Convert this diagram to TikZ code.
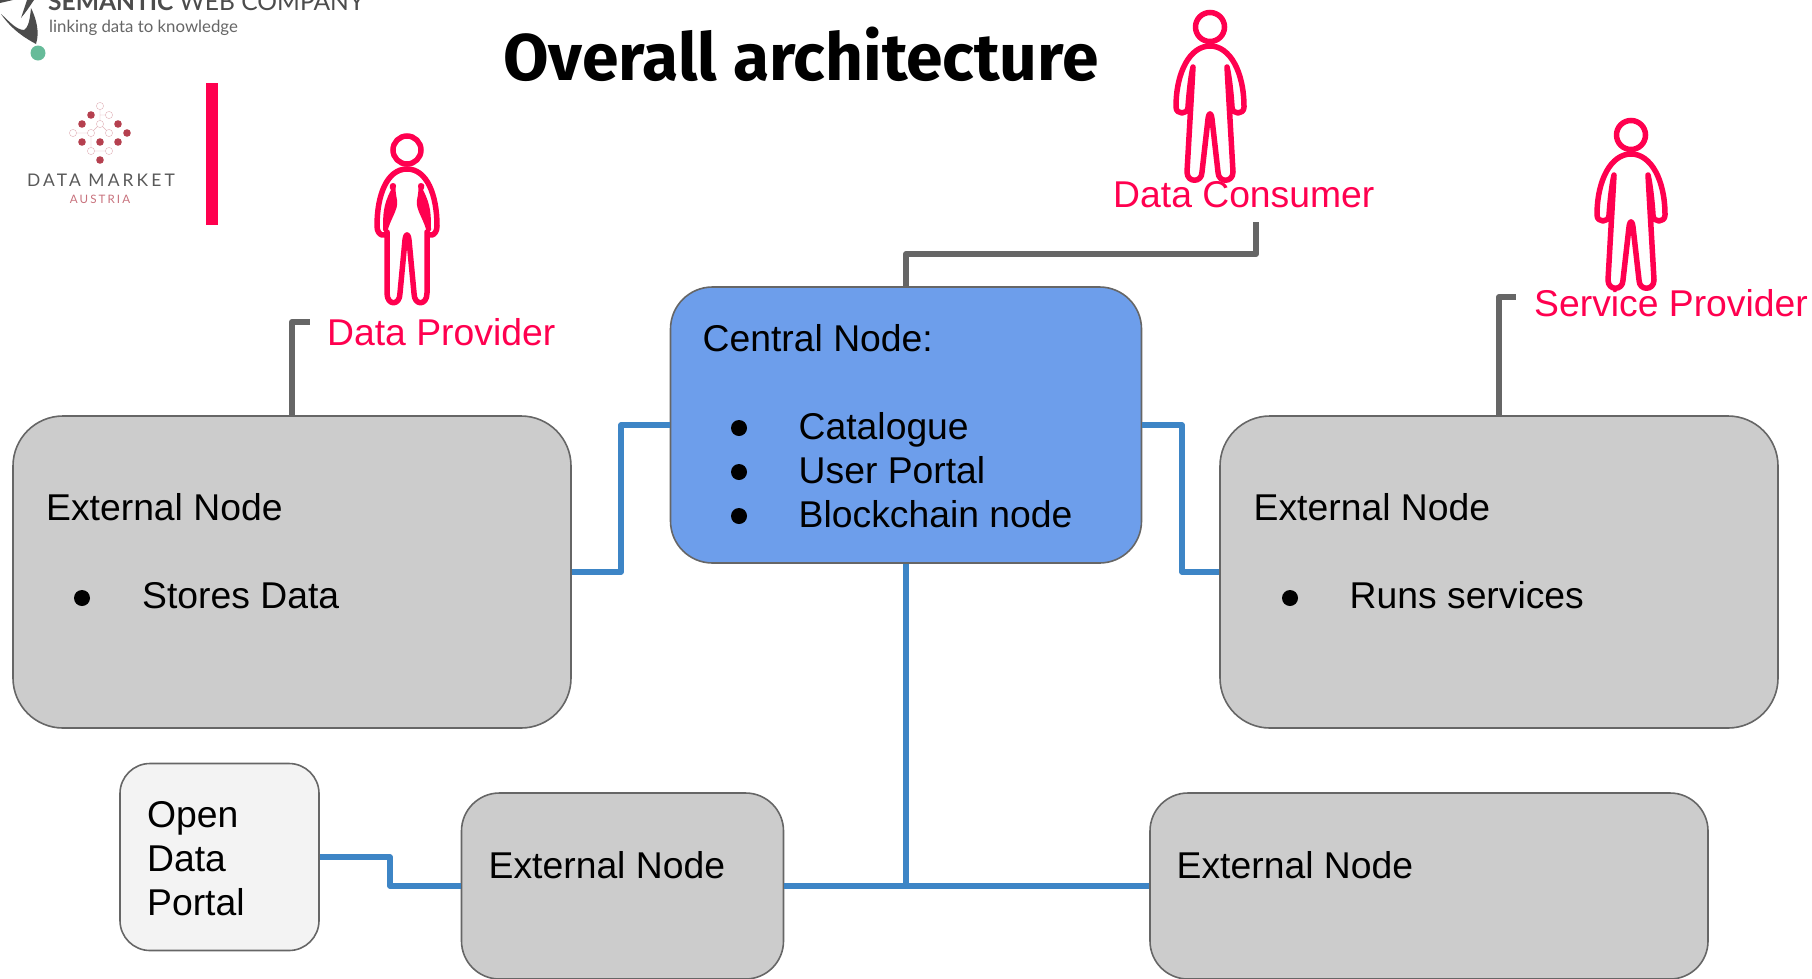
\documentclass[tikz,border=0pt]{standalone}
\usepackage{fontspec}
\setmainfont{Liberation Sans}
\newfontfamily\titlefont{Fira Sans Bold}
\newfontfamily\logofont{Lato}
\newfontfamily\logospaced[LetterSpace=18]{Lato}
\definecolor{rolered}{HTML}{FF004F}
\definecolor{linkblue}{HTML}{3D85C6}
\definecolor{linkgrey}{HTML}{666666}
\definecolor{centralblue}{HTML}{6D9EEB}
\definecolor{nodegrey}{HTML}{CCCCCC}
\definecolor{portalgrey}{HTML}{F3F3F3}
\definecolor{logored}{HTML}{B5404F}
\definecolor{logogreen}{HTML}{66BB99}
\tikzset{
	box/.style = {draw = linkgrey, line width = 1.6pt, inner sep = 0pt},
	label/.style = {anchor = base west, inner sep = 0pt, font = \fontsize{37.3}{44}\selectfont},
	role/.style = {label, text = rolered},
	dot/.style = {circle, fill = black, inner sep = 0pt, minimum size = 16pt},
	bluelink/.style = {draw = linkblue, line width = 5.5pt, line join = round},
	greylink/.style = {draw = linkgrey, line width = 6pt, line join = round},
	manfig/.pic = {
		\draw [rolered, line width = 5.5pt] (0, 0) circle [radius = 14.5];
		\foreach \s in {-1, 1}
			\draw [rolered, line width = 5.5pt, line join = round, line cap = round, xscale = \s]
				(0, 19) .. controls (20, 19) and (34, 45) .. (34, 80)
				.. controls (34, 88) and (22, 88) .. (22, 80)
				.. controls (21, 65) and (19, 48) .. (17, 40)
				-- (23, 145) .. controls (23, 156) and (8, 156) .. (8, 145)
				-- (2, 92) .. controls (1.5, 87) and (0, 87) .. (0, 87);
	},
	womanfig/.pic = {
		\draw [rolered, line width = 5.5pt] (0, 0) circle [radius = 14];
		\foreach \s in {-1, 1} {
			\draw [rolered, line width = 5.5pt, line join = round, line cap = round, xscale = \s]
				(0, 19) .. controls (20, 19) and (30, 45) .. (30, 76)
				.. controls (30, 87) and (20, 87) .. (20, 82)
				-- (20, 143) .. controls (20, 156) and (7, 156) .. (7, 143)
				-- (2, 90) .. controls (1.5, 85) and (0, 85) .. (0, 85);
			\fill [rolered, xscale = \s] (14, 33) .. controls (18, 33) and (18, 38) .. (16, 40)
				.. controls (24, 55) and (24, 65) .. (24, 80) -- (20, 84)
				.. controls (18, 70) and (8, 60) .. (10, 50) .. controls (11, 45) and (12, 38) .. (11, 36)
				.. controls (11, 34) and (12, 33) .. (14, 33);
		}
	}
}
\begin{document}
\begin{tikzpicture}[x = 1pt, y = -1pt]
	\useasboundingbox (0, 0) rectangle (1812, 978);
	\clip (0, 0) rectangle (1812, 978);
	% company logo
	\fill [black!70] (1, 14) .. controls (12, 30) and (25, 38) .. (36, 44)
		.. controls (40, 32) and (36, 18) .. (31, 8) .. controls (30, 20) and (28, 28) .. (24, 30)
		.. controls (16, 30) and (8, 20) .. (1, 14);
	\fill [black!70] (27, 0) -- (21, 18) .. controls (26, 12) and (30, 6) .. (34, 0) -- cycle;
	\fill [black!70] (0, 3) -- (13, 0) -- (0, 0) -- cycle;
	\fill [logogreen] (38, 53) circle [radius = 7.5];
	\node [anchor = base west, inner sep = 0pt, text = black!70] (semantic) at (48, 10)
		{\logofont\fontsize{24.6}{26}\selectfont\bfseries SEMANTIC \mdseries WEB COMPANY};
	\node [anchor = base west, inner sep = 0pt, text = black!60] (slogan) at (49, 32)
		{\logofont\fontsize{16.8}{20}\selectfont linking data to knowledge};
	% second logo
	\foreach \x/\y in {91/115, 82/124, 118/124, 127/133, 82/142, 100/142, 118/142, 100/160}
		\fill [logored] (\x, \y) circle [radius = 3.8];
	\draw [logored!40] (100, 106) -- (100, 124) (100, 115) -- (109, 115) (73, 133) -- (91, 133)
		-- (100, 124) -- (109, 133) (91, 133) -- (91, 151) -- (109, 151);
	\foreach \x/\y in {100/106, 109/115, 100/124, 73/133, 91/133, 109/133, 91/151, 109/151}
		\draw [logored!40, fill = white] (\x, \y) circle [radius = 3.6];
	\node [inner sep = 0pt, text = black!65] (market) at (101, 180)
		{\logospaced\fontsize{17.4}{18}\selectfont DATA MARKET};
	\node [inner sep = 0pt, text = logored!75] (austria) at (100, 199)
		{\logospaced\fontsize{11.6}{12}\selectfont AUSTRIA};
	\fill [rolered] (206, 83) rectangle (218, 225);
	% title
	\node [anchor = base west, inner sep = 0pt] (title) at (503, 80)
		{\titlefont\fontsize{66}{70}\selectfont Overall architecture};
	% boxes
	\node [box, fill = centralblue, rounded corners = 42pt, minimum width = 471pt, minimum height = 276pt] (central) at (906, 425) {};
	\node [box, fill = nodegrey, rounded corners = 50pt, minimum width = 558pt, minimum height = 312pt] (extleft) at (292, 572) {};
	\node [box, fill = nodegrey, rounded corners = 50pt, minimum width = 558pt, minimum height = 312pt] (extright) at (1499, 572) {};
	\node [box, fill = nodegrey, rounded corners = 38pt, minimum width = 322pt, minimum height = 186pt] (extbottoml) at (622.5, 886) {};
	\node [box, fill = nodegrey, rounded corners = 38pt, minimum width = 558pt, minimum height = 186pt] (extbottomr) at (1429, 886) {};
	\node [box, fill = portalgrey, rounded corners = 30pt, minimum width = 199pt, minimum height = 187pt] (portal) at (219.5, 857) {};
	% links
	\coordinate (provider) at (310, 322);
	\coordinate (consumer) at (1256, 222);
	\coordinate (consumerbend) at (1256, 254);
	\coordinate (service) at (1516, 297);
	\coordinate (leftbend) at (621, 500);
	\coordinate (rightbend) at (1182, 500);
	\coordinate (portalbend) at (390, 870);
	\draw [greylink] (extleft.north) |- (provider);
	\draw [greylink] (central.north) |- (consumerbend) -- (consumer);
	\draw [greylink] (extright.north) |- (service);
	\draw [bluelink] (central.west) -| (leftbend) |- (extleft.east);
	\draw [bluelink] (central.east) -| (rightbend) |- (extright.west);
	\draw [bluelink] (central.south) -- (central.south |- extbottoml.east);
	\draw [bluelink] (extbottoml.east) -- (extbottomr.west);
	\draw [bluelink] (portal.east) -| (portalbend) |- (extbottoml.west);
	% people
	\pic at (407, 150) {womanfig};
	\pic at (1210, 27) {manfig};
	\pic at (1631, 135) {manfig};
	\node [role] (providerlabel) at (327, 345) {Data Provider};
	\node [role] (consumerlabel) at (1113, 207.5) {Data Consumer};
	\node [role] (servicelabel) at (1534, 316.5) {Service Provider};
	% texts
	\node [label] (centraltitle) at (702.5, 351) {Central Node:};
	\foreach \y/\t/\n in {439/Catalogue/a, 483/User Portal/b, 527/Blockchain node/c} {
		\node [dot] (centraldot\n) at (739, \y - 11) {};
		\node [label] (centralitem\n) at (798.5, \y) {\t};
	}
	\node [label] (extlefttitle) at (46, 520) {External Node};
	\node [dot] (extleftdot) at (82, 598) {};
	\node [label] (extleftitem) at (142, 608) {Stores Data};
	\node [label] (extrighttitle) at (1253.5, 520) {External Node};
	\node [dot] (extrightdot) at (1290, 598) {};
	\node [label] (extrightitem) at (1349.5, 608) {Runs services};
	\node [label] (extbottomltitle) at (488.5, 878.5) {External Node};
	\node [label] (extbottomrtitle) at (1176.5, 878.5) {External Node};
	\node [label] (portalopen) at (147, 827) {Open};
	\node [label] (portaldata) at (147, 871) {Data};
	\node [label] (portalportal) at (147, 915) {Portal};
\end{tikzpicture}
\end{document}
